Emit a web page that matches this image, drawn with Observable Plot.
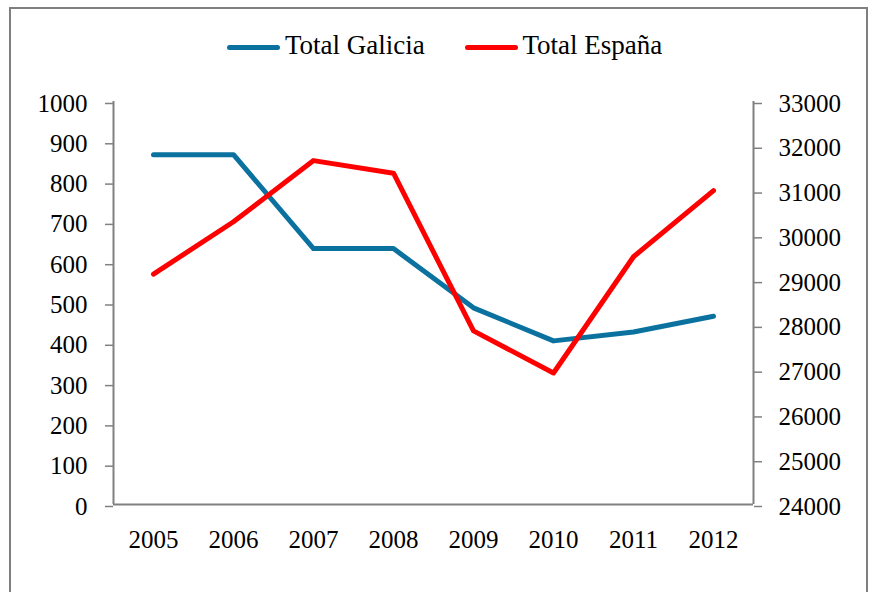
<!DOCTYPE html>
<html>
<head>
<meta charset="utf-8">
<script src="https://cdn.jsdelivr.net/npm/d3@7"></script>
<script src="https://cdn.jsdelivr.net/npm/@observablehq/plot@0.6"></script>
<style>
  html, body { margin: 0; padding: 0; background: #fff; }
  #wrap { position: relative; width: 869px; height: 592px; overflow: hidden; font-family: "Liberation Serif", serif; }
  #border { position: absolute; left: 9px; top: 7px; height: 700px; border: 2px solid #7f7f7f; box-sizing: border-box; width: 859px; }
  #chart { position: absolute; left: 0; top: 0; }
  #chart svg, #chart svg text { font-family: "Liberation Serif", serif !important; }
  .sw { position: absolute; height: 5px; border-radius: 2.5px; }
  .lt { position: absolute; font-size: 27px; line-height: 27px; color: #000; white-space: nowrap; }
</style>
</head>
<body>
<div id="wrap">
  <div id="border"></div>
  <div id="chart"></div>
  <div id="legend"></div>
</div>
<script>
const years = [2005, 2006, 2007, 2008, 2009, 2010, 2011, 2012];
const galicia = [868, 868, 635, 635, 488, 406, 428, 467];
const espana = [29145, 30315, 31680, 31398, 27877, 26937, 29533, 31009];
const leftTicks = [0, 100, 200, 300, 400, 500, 600, 700, 800, 900, 1000];
const rightTicks = [24000, 25000, 26000, 27000, 28000, 29000, 30000, 31000, 32000, 33000];
const seriesNames = ["Total Galicia", "Total España"];
const seriesColors = ["#0b72a0", "#ff0000"];

const RMIN = 24000, RMAX = 33000, LMAX = 1000;
const toLeft = v => (v - RMIN) / (RMAX - RMIN) * LMAX;
const fromLeft = d => Math.round(RMIN + d * (RMAX - RMIN) / LMAX);

const dataG = years.map((y, i) => ({year: y, v: galicia[i]}));
const dataE = years.map((y, i) => ({year: y, v: espana[i]}));
const axisColor = "#808080";

const chart = Plot.plot({
  width: 869,
  height: 592,
  marginLeft: 113,
  marginRight: 116,
  marginTop: 101,
  marginBottom: 88,
  x: {type: "linear", domain: [years[0] - 0.5, years[years.length - 1] + 0.5]},
  y: {domain: [0, LMAX]},
  style: {fontFamily: "Liberation Serif", fontSize: "25px", color: "#000", background: "transparent"},
  marks: [
    Plot.ruleY([0], {stroke: axisColor, strokeWidth: 2}),
    Plot.ruleX([years[0] - 0.5, years[years.length - 1] + 0.5], {stroke: axisColor, strokeWidth: 2}),
    Plot.axisX({ticks: years, tickSize: 0, tickPadding: 26, tickFormat: d => String(d), label: null, fill: "#000"}),
    Plot.axisY({anchor: "left", ticks: leftTicks, tickSize: 8, tickPadding: 18, stroke: axisColor, strokeWidth: 1.5, label: null, fill: "#000", dy: 2, tickFormat: d => String(d)}),
    Plot.axisY({anchor: "right", ticks: rightTicks.map(toLeft), tickSize: 8, tickPadding: 17, stroke: axisColor, strokeWidth: 1.5, label: null, fill: "#000", dy: 2, tickFormat: d => String(fromLeft(d))}),
    Plot.line(dataG, {x: "year", y: "v", stroke: seriesColors[0], strokeWidth: 5, strokeLinecap: "round", strokeLinejoin: "round"}),
    Plot.line(dataE, {x: "year", y: d => toLeft(d.v), stroke: seriesColors[1], strokeWidth: 5, strokeLinecap: "round", strokeLinejoin: "round"})
  ]
});
document.getElementById("chart").appendChild(chart);

// legend
const legend = document.getElementById("legend");
const legendPos = [227, 464.5];
seriesNames.forEach((name, i) => {
  const sw = document.createElement("div");
  sw.className = "sw";
  sw.style.left = legendPos[i] + "px";
  sw.style.top = "45px";
  sw.style.width = "53px";
  sw.style.background = seriesColors[i];
  legend.appendChild(sw);
  const t = document.createElement("div");
  t.className = "lt";
  t.style.left = (legendPos[i] + 58) + "px";
  t.style.top = "32px";
  t.textContent = name;
  legend.appendChild(t);
});
</script>
</body>
</html>
